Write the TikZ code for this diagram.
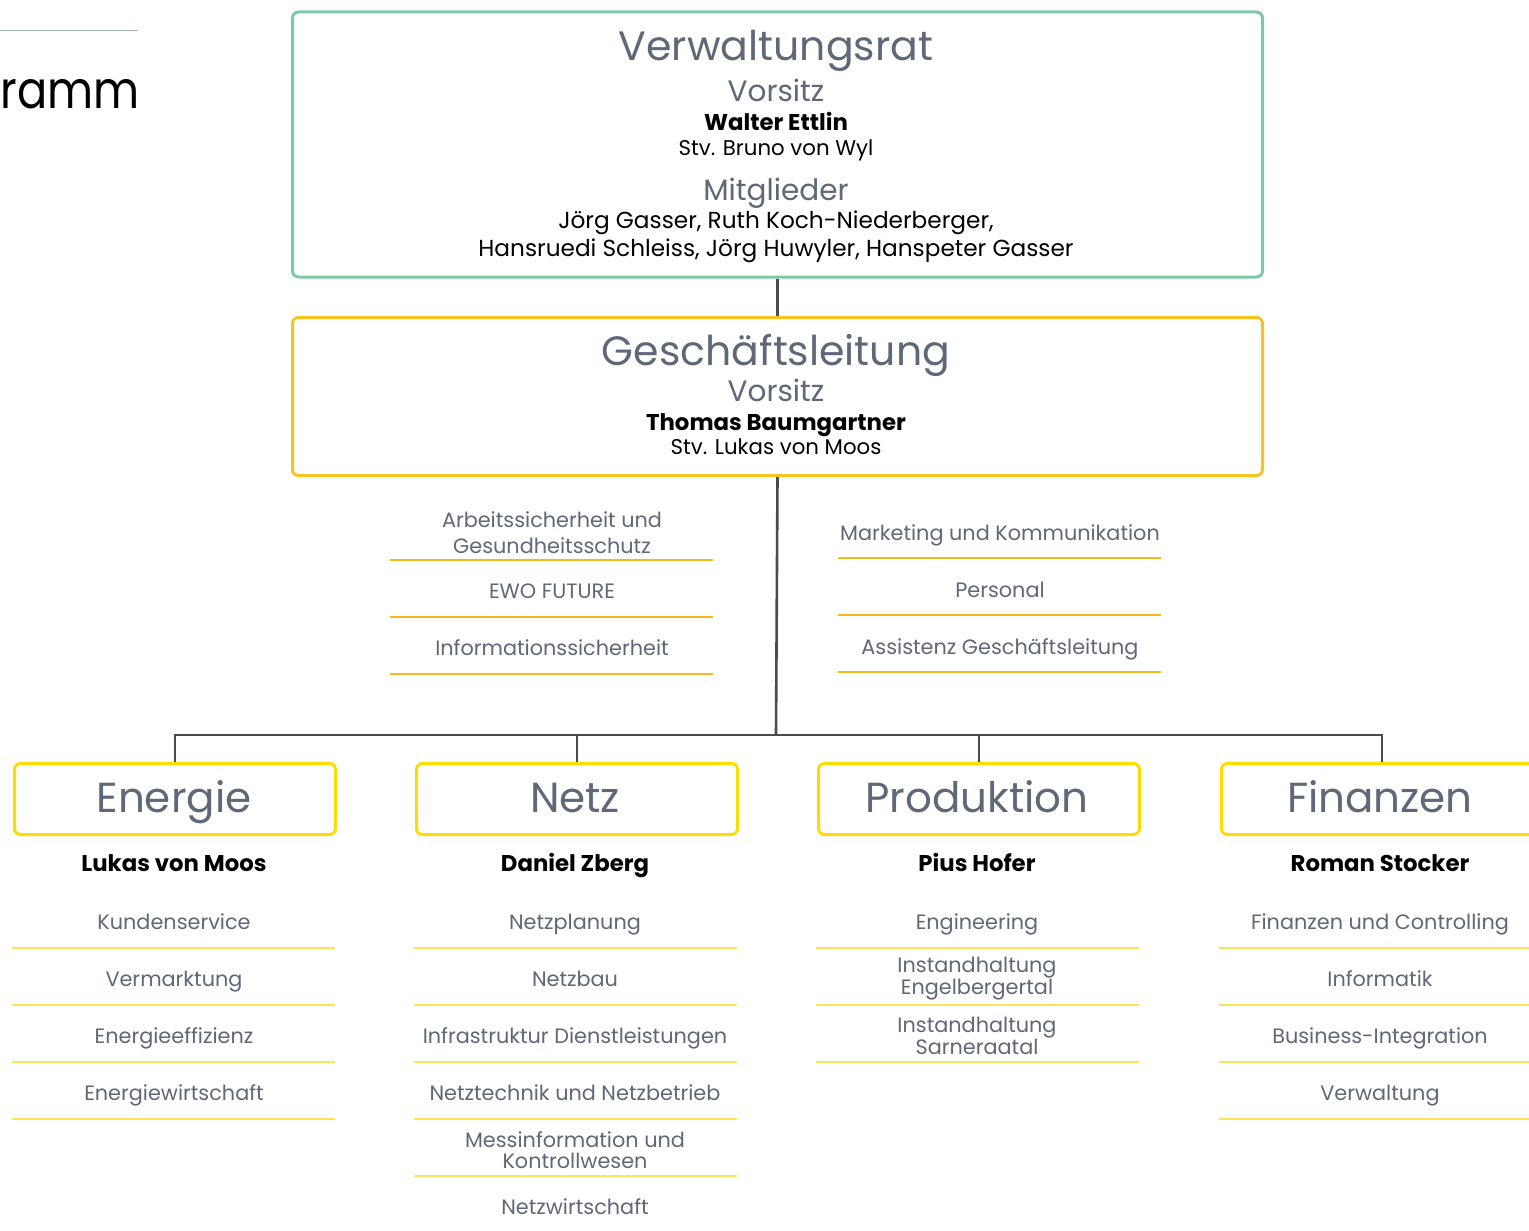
\documentclass[tikz,border=0pt]{standalone}
\usepackage{fontspec}
\setmainfont{Poppins}
\definecolor{txtgray}{HTML}{5F6879}
\definecolor{vrgreen}{HTML}{7CC9A6}
\definecolor{glyellow}{HTML}{F7C31E}
\definecolor{staffline}{HTML}{F6B918}
\definecolor{divyellow}{HTML}{FFDC00}
\definecolor{itemline}{HTML}{FCE35A}
\definecolor{conncol}{HTML}{4B4B4B}
\definecolor{toprule}{HTML}{9DB5B3}
\tikzset{
  x=1pt,y=-1pt,
  frame/.style={draw, rounded corners=6, line width=3, minimum width=970, minimum height=#1, anchor=north west, inner sep=0},
  divbox/.style={draw=divyellow, rounded corners=6, line width=3, minimum width=321, minimum height=71, anchor=north west, inner sep=0},
  conn/.style={draw=conncol, line width=2.6},
  huge/.style={font=\fontsize{41}{45}\selectfont, text=txtgray, anchor=base, inner sep=0},
  mid/.style={font=\fontsize{29.5}{31}\selectfont, text=txtgray, anchor=base, inner sep=0},
  boldname/.style={font=\fontsize{22.8}{24}\selectfont\bfseries, text=black, anchor=base, inner sep=0},
  plain/.style={font=\fontsize{21.3}{23}\selectfont, text=black, anchor=base, inner sep=0},
  plainl/.style={font=\fontsize{23.2}{25}\selectfont, text=black, anchor=base, inner sep=0},
  item/.style={font=\fontsize{20.8}{21}\selectfont, text=txtgray, anchor=base, inner sep=0, align=center},
  itemtwo/.style={font=\fontsize{20.8}{21}\selectfont, text=txtgray, anchor=center, inner sep=0, align=center},
  itemtwow/.style={font=\fontsize{20.8}{26}\selectfont, text=txtgray, anchor=center, inner sep=0, align=center},
  divtitle/.style={font=\fontsize{42}{46}\selectfont, text=txtgray, anchor=base, inner sep=0},
  sline/.style={draw=staffline, line width=1.6},
  iline/.style={draw=itemline, line width=1.8},
}
\begin{document}
\begin{tikzpicture}
\clip (0,0) rectangle (1529,1231);
\fill[white] (0,0) rectangle (1529,1231);

% title fragment
\draw[toprule, line width=1] (0,31) -- (138,31);
\node[font=\fontsize{52}{56}\selectfont, anchor=base east, inner sep=0, xscale=0.86] (title) at (140,108) {ramm};

% Verwaltungsrat
\node[frame=265, draw=vrgreen] (vr) at (291,10.5) {};
\node[huge] (vrt) at (776,60) {Verwaltungsrat};
\node[mid] (vrv) at (776,102) {Vorsitz};
\node[boldname] (vrn) at (776,130) {Walter Ettlin};
\node[plain] (vrs) at (776,155) {Stv. Bruno von Wyl};
\node[mid] (vrm) at (776,200) {Mitglieder};
\node[plainl] (vrm1) at (776,228) {Jörg Gasser, Ruth Koch-Niederberger,};
\node[plainl] (vrm2) at (776,256) {Hansruedi Schleiss, Jörg Huwyler, Hanspeter Gasser};

% Geschaeftsleitung
\node[frame=158, draw=glyellow] (gl) at (291,316) {};
\node[huge] (glt) at (776,365) {Geschäftsleitung};
\node[mid] (glv) at (776,401) {Vorsitz};
\node[boldname] (gln) at (776,430) {Thomas Baumgartner};
\node[plain] (gls) at (776,454) {Stv. Lukas von Moos};

% staff left
\node[itemtwow] (sl1) at (552,533) {Arbeitssicherheit und\\Gesundheitsschutz};
\node[item] (sl2) at (552,598) {EWO FUTURE};
\node[item] (sl3) at (552,655) {Informationssicherheit};
\foreach \y in {560,617,674} \draw[sline] (390,\y) -- (713,\y);
% staff right
\node[item] (sr1) at (1000,540) {Marketing und Kommunikation};
\node[item] (sr2) at (1000,597) {Personal};
\node[item] (sr3) at (1000,654) {Assistenz Geschäftsleitung};
\foreach \y in {558,615,672} \draw[sline] (838,\y) -- (1161,\y);

% divisions
\node[divbox] (en) at (13,762) {};
\node[divbox] (ne) at (415,762) {};
\node[divbox] (pr) at (817,762) {};
\node[divbox] (fi) at (1220,762) {};
\node[divtitle] (ent) at (174,812) {Energie};
\node[divtitle] (net) at (575,812) {Netz};
\node[divtitle] (prt) at (977,812) {Produktion};
\node[divtitle] (fit) at (1380,812) {Finanzen};
\node[boldname] (enn) at (174,871) {Lukas von Moos};
\node[boldname] (nen) at (575,871) {Daniel Zberg};
\node[boldname] (prn) at (977,871) {Pius Hofer};
\node[boldname] (fin) at (1380,871) {Roman Stocker};

% connectors
\coordinate (j) at (776,735);
\draw[conn] (vr.south) -- (gl.north);
\draw[conn] (gl.south) -- (j);
\draw[conn] (en.north) |- (j) -| (fi.north);
\draw[conn] (ne.north) -- (ne.north |- j);
\draw[conn] (pr.north) -- (pr.north |- j);

% Energie items
\node[item] (en1) at (174,929) {Kundenservice};
\node[item] (en2) at (174,986) {Vermarktung};
\node[item] (en3) at (174,1043) {Energieeffizienz};
\node[item] (en4) at (174,1100) {Energiewirtschaft};
\foreach \y in {948,1005,1062,1119} \draw[iline] (12,\y) -- (335,\y);

% Netz items
\node[item] (ne1) at (575,929) {Netzplanung};
\node[item] (ne2) at (575,986) {Netzbau};
\node[item] (ne3) at (575,1043) {Infrastruktur Dienstleistungen};
\node[item] (ne4) at (575,1100) {Netztechnik und Netzbetrieb};
\node[itemtwo] (ne5) at (575,1150) {Messinformation und\\Kontrollwesen};
\node[item] (ne6) at (575,1214) {Netzwirtschaft};
\foreach \y in {948,1005,1062,1119,1176} \draw[iline] (414,\y) -- (737,\y);

% Produktion items
\node[item] (pr1) at (977,929) {Engineering};
\node[itemtwo] (pr2) at (977,979) {Instandhaltung\\Engelbergertal};
\node[itemtwo] (pr3) at (977,1036) {Instandhaltung\\Sarneraatal};
\foreach \y in {948,1005,1062} \draw[iline] (816,\y) -- (1139,\y);

% Finanzen items
\node[item] (fi1) at (1380,929) {Finanzen und Controlling};
\node[item] (fi2) at (1380,986) {Informatik};
\node[item] (fi3) at (1380,1043) {Business-Integration};
\node[item] (fi4) at (1380,1100) {Verwaltung};
\foreach \y in {948,1005,1062,1119} \draw[iline] (1219,\y) -- (1545,\y);
\end{tikzpicture}
\end{document}
